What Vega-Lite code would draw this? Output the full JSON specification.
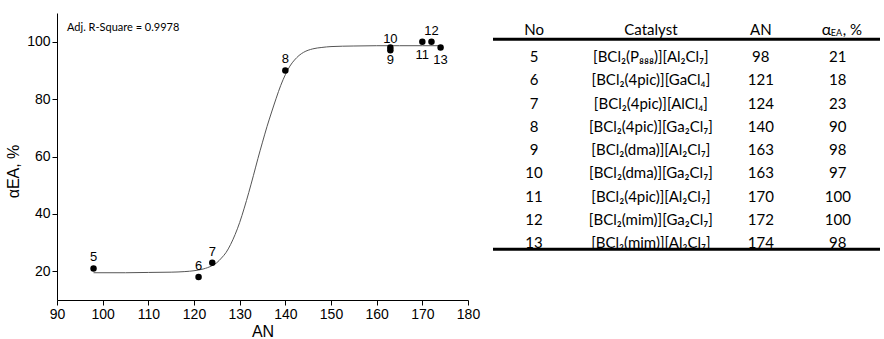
{
  "$schema": "https://vega.github.io/schema/vega-lite/v6.json",
  "background": "white",
  "padding": {"left": 5, "top": 13, "right": 2, "bottom": 2},
  "bounds": "flush",
  "spacing": 25,
  "config": {"view": {"stroke": null}, "font": "Liberation Sans"},
  "datasets": {
    "catalysts": [
      {"No": 5, "Catalyst": "[BCl₂(P₈₈₈)][Al₂Cl₇]", "AN": 98, "alpha": 21},
      {"No": 6, "Catalyst": "[BCl₂(4pic)][GaCl₄]", "AN": 121, "alpha": 18},
      {"No": 7, "Catalyst": "[BCl₂(4pic)][AlCl₄]", "AN": 124, "alpha": 23},
      {"No": 8, "Catalyst": "[BCl₂(4pic)][Ga₂Cl₇]", "AN": 140, "alpha": 90},
      {"No": 9, "Catalyst": "[BCl₂(dma)][Al₂Cl₇]", "AN": 163, "alpha": 98},
      {"No": 10, "Catalyst": "[BCl₂(dma)][Ga₂Cl₇]", "AN": 163, "alpha": 97},
      {"No": 11, "Catalyst": "[BCl₂(4pic)][Al₂Cl₇]", "AN": 170, "alpha": 100},
      {"No": 12, "Catalyst": "[BCl₂(mim)][Ga₂Cl₇]", "AN": 172, "alpha": 100},
      {"No": 13, "Catalyst": "[BCl₂(mim)][Al₂Cl₇]", "AN": 174, "alpha": 98}
    ],
    "fit": [
      {"AN": 98, "alpha": 19.5}, {"AN": 105, "alpha": 19.5}, {"AN": 110, "alpha": 19.6},
      {"AN": 115, "alpha": 19.7}, {"AN": 118, "alpha": 19.9}, {"AN": 120, "alpha": 20.2},
      {"AN": 122, "alpha": 20.8}, {"AN": 124, "alpha": 22.0}, {"AN": 125, "alpha": 23.0},
      {"AN": 126, "alpha": 24.6}, {"AN": 127, "alpha": 26.5}, {"AN": 128, "alpha": 29.3},
      {"AN": 129, "alpha": 32.8}, {"AN": 130, "alpha": 37.0}, {"AN": 131, "alpha": 42.0},
      {"AN": 132, "alpha": 47.5}, {"AN": 133, "alpha": 53.3}, {"AN": 134, "alpha": 59.3},
      {"AN": 135, "alpha": 65.0}, {"AN": 136, "alpha": 70.5}, {"AN": 137, "alpha": 75.5},
      {"AN": 138, "alpha": 80.3}, {"AN": 139, "alpha": 84.8}, {"AN": 140, "alpha": 88.5},
      {"AN": 141, "alpha": 91.5}, {"AN": 142, "alpha": 93.6}, {"AN": 143, "alpha": 95.2},
      {"AN": 144, "alpha": 96.3}, {"AN": 146, "alpha": 97.5}, {"AN": 148, "alpha": 98.0},
      {"AN": 150, "alpha": 98.3}, {"AN": 155, "alpha": 98.5}, {"AN": 160, "alpha": 98.6},
      {"AN": 165, "alpha": 98.6}, {"AN": 170, "alpha": 98.6}, {"AN": 174, "alpha": 98.6}
    ]
  },
  "hconcat": [
    {
      "width": 411,
      "height": 287,
      "layer": [
        {
          "data": {"name": "fit"},
          "mark": {"type": "line", "interpolate": "monotone", "color": "#555555", "strokeWidth": 1},
          "encoding": {
            "x": {
              "field": "AN", "type": "quantitative",
              "scale": {"domain": [90, 180], "nice": false, "zero": false},
              "axis": {
                "title": "AN",
                "values": [90, 95, 100, 105, 110, 115, 120, 125, 130, 135, 140, 145, 150, 155, 160, 165, 170, 175, 180],
                "labelExpr": "datum.value % 10 === 0 ? datum.label : ''",
                "tickSize": {"condition": {"test": "datum.value % 10 === 0", "value": 5}, "value": 3},
                "grid": false, "domainColor": "black", "tickColor": "black", "labelColor": "black", "titleColor": "black",
                "labelFontSize": 14, "titleFontSize": 16, "titleFontWeight": "normal",
                "labelPadding": 2, "titlePadding": 2, "labelFlush": false, "labelOverlap": false
              }
            },
            "y": {
              "field": "alpha", "type": "quantitative",
              "scale": {"domain": [10, 110], "nice": false, "zero": false},
              "axis": {
                "title": "αEA, %",
                "titleY": 158,
                "values": [20, 30, 40, 50, 60, 70, 80, 90, 100],
                "labelExpr": "datum.value % 20 === 0 ? datum.label : ''",
                "tickSize": {"condition": {"test": "datum.value % 20 === 0", "value": 5}, "value": 3},
                "grid": false, "domainColor": "black", "tickColor": "black", "labelColor": "black", "titleColor": "black",
                "labelFontSize": 14, "titleFontSize": 16, "titleFontWeight": "normal",
                "labelPadding": 2, "titlePadding": 5, "labelFlush": false, "labelOverlap": false
              }
            }
          }
        },
        {
          "data": {"name": "catalysts"},
          "mark": {"type": "point", "filled": true, "size": 42, "color": "black", "opacity": 1},
          "encoding": {
            "x": {"field": "AN", "type": "quantitative"},
            "y": {"field": "alpha", "type": "quantitative"}
          }
        },
        {
          "data": {"name": "catalysts"},
          "transform": [{"filter": "datum.No != 9 && datum.No != 11 && datum.No != 13"}],
          "mark": {"type": "text", "dy": -11, "fontSize": 13, "color": "black", "baseline": "middle"},
          "encoding": {
            "x": {"field": "AN", "type": "quantitative"},
            "y": {"field": "alpha", "type": "quantitative"},
            "text": {"field": "No", "type": "nominal"}
          }
        },
        {
          "data": {"name": "catalysts"},
          "transform": [{"filter": "datum.No == 9 || datum.No == 11 || datum.No == 13"}],
          "mark": {"type": "text", "dy": 13, "fontSize": 13, "color": "black", "baseline": "middle"},
          "encoding": {
            "x": {"field": "AN", "type": "quantitative"},
            "y": {"field": "alpha", "type": "quantitative"},
            "text": {"field": "No", "type": "nominal"}
          }
        },
        {
          "data": {"values": [{"label": "Adj. R-Square = 0.9978"}]},
          "mark": {"type": "text", "align": "left", "baseline": "middle", "fontSize": 11, "font": "Lato", "color": "black"},
          "encoding": {
            "x": {"datum": 92.2},
            "y": {"datum": 104.9},
            "text": {"field": "label", "type": "nominal"}
          }
        }
      ]
    },
    {
      "width": 387,
      "height": 287,
      "encoding": {
        "y": {"type": "quantitative", "scale": {"domain": [3.095, 15.45], "reverse": true, "nice": false, "zero": false}, "axis": null}
      },
      "layer": [
        {
          "data": {"values": [{}]},
          "mark": {"type": "rule", "strokeWidth": 3, "color": "black"},
          "encoding": {"y": {"datum": 4.23}}
        },
        {
          "data": {"values": [{}]},
          "mark": {"type": "rule", "strokeWidth": 3, "color": "black"},
          "encoding": {"y": {"datum": 13.27}}
        },
        {
          "data": {"values": [{"h": "No"}]},
          "mark": {"type": "text", "font": "Lato", "fontSize": 15, "color": "black", "baseline": "middle"},
          "encoding": {
            "x": {"datum": 0.106, "scale": {"domain": [0, 1], "nice": false, "zero": false}, "axis": null},
            "y": {"datum": 3.84},
            "text": {"field": "h", "type": "nominal"}
          }
        },
        {
          "data": {"values": [{"h": "Catalyst"}]},
          "mark": {"type": "text", "font": "Lato", "fontSize": 15, "color": "black", "baseline": "middle"},
          "encoding": {"x": {"datum": 0.408}, "y": {"datum": 3.84}, "text": {"field": "h", "type": "nominal"}}
        },
        {
          "data": {"values": [{"h": "AN"}]},
          "mark": {"type": "text", "font": "Lato", "fontSize": 15, "color": "black", "baseline": "middle"},
          "encoding": {"x": {"datum": 0.692}, "y": {"datum": 3.84}, "text": {"field": "h", "type": "nominal"}}
        },
        {
          "data": {"values": [{"h": "α"}]},
          "mark": {"type": "text", "font": "Lato", "fontSize": 16, "color": "black", "baseline": "middle", "align": "left", "dx": -16},
          "encoding": {"x": {"datum": 0.891}, "y": {"datum": 3.84}, "text": {"field": "h", "type": "nominal"}}
        },
        {
          "data": {"values": [{"h": "EA"}]},
          "mark": {"type": "text", "font": "Lato", "fontSize": 9, "color": "black", "baseline": "middle", "align": "left", "dx": -7, "dy": 3},
          "encoding": {"x": {"datum": 0.891}, "y": {"datum": 3.84}, "text": {"field": "h", "type": "nominal"}}
        },
        {
          "data": {"values": [{"h": ", %"}]},
          "mark": {"type": "text", "font": "Lato", "fontSize": 15, "color": "black", "baseline": "middle", "align": "left", "dx": 5},
          "encoding": {"x": {"datum": 0.891}, "y": {"datum": 3.84}, "text": {"field": "h", "type": "nominal"}}
        },
        {
          "data": {"name": "catalysts"},
          "mark": {"type": "text", "font": "Lato", "fontSize": 15, "color": "black", "baseline": "middle"},
          "encoding": {"x": {"datum": 0.106}, "y": {"field": "No", "type": "quantitative"}, "text": {"field": "No", "type": "nominal"}}
        },
        {
          "data": {"name": "catalysts"},
          "mark": {"type": "text", "font": "Lato", "fontSize": 15, "color": "black", "baseline": "middle"},
          "encoding": {"x": {"datum": 0.408}, "y": {"field": "No", "type": "quantitative"}, "text": {"field": "Catalyst", "type": "nominal"}}
        },
        {
          "data": {"name": "catalysts"},
          "mark": {"type": "text", "font": "Lato", "fontSize": 15, "color": "black", "baseline": "middle"},
          "encoding": {"x": {"datum": 0.692}, "y": {"field": "No", "type": "quantitative"}, "text": {"field": "AN", "type": "nominal"}}
        },
        {
          "data": {"name": "catalysts"},
          "mark": {"type": "text", "font": "Lato", "fontSize": 15, "color": "black", "baseline": "middle"},
          "encoding": {"x": {"datum": 0.891}, "y": {"field": "No", "type": "quantitative"}, "text": {"field": "alpha", "type": "nominal"}}
        }
      ]
    }
  ]
}
